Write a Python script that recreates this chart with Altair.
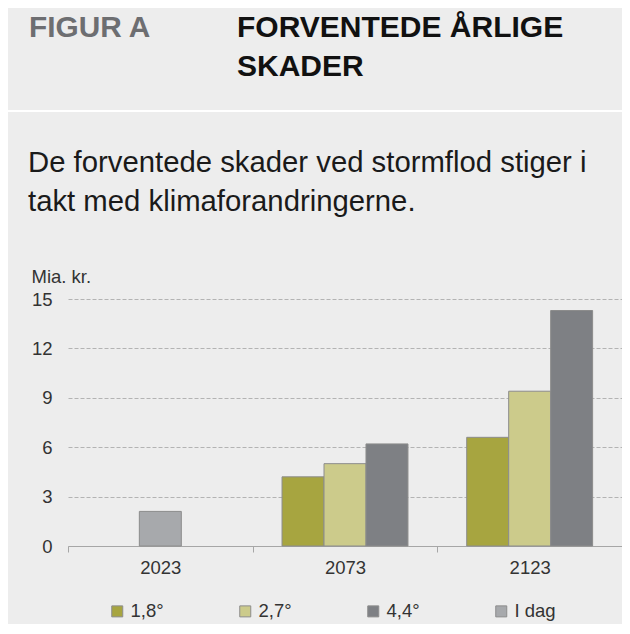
import altair as alt
import pandas as pd

# ---- data ----
years = ["2023", "2073", "2073", "2073", "2123", "2123", "2123"]
scenarios = ["I dag", "1,8°", "2,7°", "4,4°", "1,8°", "2,7°", "4,4°"]
slots = ["2,7°", "1,8°", "2,7°", "4,4°", "1,8°", "2,7°", "4,4°"]  # group slot (I dag centred)
values = [2.1, 4.2, 5.0, 6.2, 6.6, 9.4, 14.3]

year_order = ["2023", "2073", "2123"]
slot_order = ["1,8°", "2,7°", "4,4°"]
legend_order = ["1,8°", "2,7°", "4,4°", "I dag"]
bar_colors = ["#a7a540", "#cccb8b", "#7e8084", "#a7a9ac"]
y_ticks = [0, 3, 6, 9, 12, 15]

label_text = "FIGUR A"
title_lines = ["FORVENTEDE ÅRLIGE", "SKADER"]
subtitle_lines = ["De forventede skader ved stormflod stiger i", "takt med klimaforandringerne."]
y_unit = "Mia. kr."

FONT = "Liberation Sans, Arial, sans-serif"

df = pd.DataFrame({"year": years, "scenario": scenarios, "slot": slots, "value": values})

bars = alt.Chart(df).mark_bar(stroke="#8c8c8c", strokeWidth=1).encode(
    x=alt.X(
        "year:N",
        sort=year_order,
        scale=alt.Scale(paddingInner=0, paddingOuter=0),
        axis=alt.Axis(
            title=None, labelAngle=0, labelFontSize=18.5, labelColor="#333333",
            domainColor="#a6a6a6", tickColor="#a6a6a6", tickSize=6, tickBand="extent",
            labelPadding=6, grid=False,
        ),
    ),
    xOffset=alt.XOffset(
        "slot:N", sort=slot_order,
        scale=alt.Scale(domain=slot_order, paddingInner=0, paddingOuter=0.7),
    ),
    y=alt.Y(
        "value:Q",
        scale=alt.Scale(domain=[0, 15], nice=False),
        axis=alt.Axis(
            title=y_unit, titleAngle=0, titleAlign="left", titleBaseline="alphabetic",
            titleX=-37, titleY=-17, titleFontSize=18.5, titleFontWeight="normal",
            titleColor="#333333",
            values=y_ticks, labelFontSize=18.5, labelColor="#333333", labelPadding=16,
            ticks=False, tickSize=0, domain=False,
            grid=True, gridColor="#b3b3b3", gridDash=[4, 2], gridWidth=1,
        ),
    ),
    color=alt.Color(
        "scenario:N",
        scale=alt.Scale(domain=legend_order, range=bar_colors),
        legend=alt.Legend(
            title=None, orient="none", legendX=40, legendY=303, direction="horizontal",
            columns=4, columnPadding=72, symbolType="square", symbolSize=121,
            symbolStrokeColor="#8c8c8c", symbolStrokeWidth=1, labelFontSize=18.5,
            labelColor="#333333", labelOffset=4, padding=0,
        ),
    ),
)


def text_layer(txt, x, y, size, color, weight="normal"):
    return alt.Chart(pd.DataFrame({"t": [txt]})).mark_text(
        align="left", baseline="alphabetic", fontSize=size, fontWeight=weight,
        color=color, font=FONT,
    ).encode(text="t:N", x=alt.value(x), y=alt.value(y))


sep = alt.Chart(pd.DataFrame({"a": [0]})).mark_rule(color="white", strokeWidth=2).encode(
    x=alt.value(-60), x2=alt.value(554), y=alt.value(-188)
)

layers = [
    sep,
    text_layer(label_text, -39, -262, 29.8, "#6d6e71", "bold"),
    text_layer(title_lines[0], 169, -262, 30, "#111111", "bold"),
    text_layer(title_lines[1], 169, -223, 30, "#111111", "bold"),
    text_layer(subtitle_lines[0], -40, -127, 29.3, "#1a1a1a"),
    text_layer(subtitle_lines[1], -40, -88, 29.3, "#1a1a1a"),
    bars,
]

chart = alt.layer(*layers).properties(
    width=554,
    height=247,
    autosize=alt.AutoSizeParams(type="none"),
    padding={"left": 60, "top": 291, "right": 0, "bottom": 78},
    background="#ededed",
).configure(font=FONT).configure_view(stroke=None)

chart.save("out.html", embed_options={"renderer": "svg", "actions": False})
